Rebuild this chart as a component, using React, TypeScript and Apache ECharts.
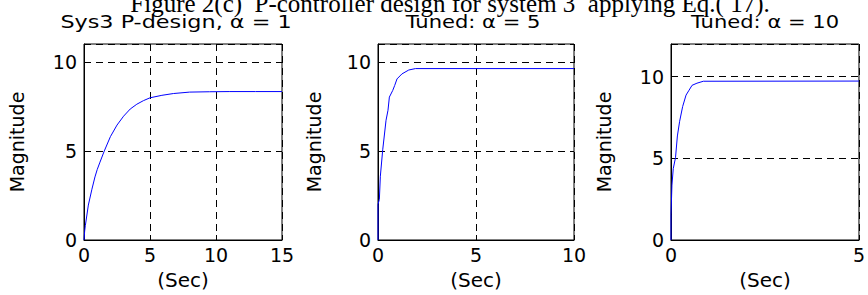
import React, { useEffect, useRef } from 'react';
import * as echarts from 'echarts';

const mainTitle = 'Figure 2(c)  P-controller design for system 3  applying Eq.( 17).';
const panelTitles = ['Sys3 P-design, \u03b1 = 1', 'Tuned: \u03b1 = 5', 'Tuned: \u03b1 = 10'];
const yAxisName = 'Magnitude';
const xAxisName = '(Sec)';
const xMaxes = [15, 10, 5];
const yMaxes = [11, 11, 12];
const tickStep = 5;

// Panel 1: Sys3 P-design, alpha = 1
const time1 = [0, 0.05, 0.1, 0.33, 0.6, 0.83, 1.0, 1.21, 1.54, 2.0, 2.5, 3.0, 3.5, 4.0, 4.5, 5.0, 5.9, 6.77, 8.0, 9.5, 11, 13, 15];
const mag1 = [0, 0.5, 0.8, 1.96, 2.85, 3.54, 3.95, 4.37, 5.0, 5.8, 6.45, 6.95, 7.35, 7.62, 7.82, 7.98, 8.12, 8.22, 8.3, 8.32, 8.33, 8.33, 8.33];

// Panel 2: Tuned, alpha = 5
const time2 = [0, 0, 0.07, 0.12, 0.24, 0.41, 0.51, 0.58, 0.75, 0.85, 0.97, 1.22, 1.57, 1.91, 10];
const mag2 = [0, 2.0, 2.28, 3.58, 5.06, 6.72, 7.28, 8.02, 8.39, 8.67, 9.04, 9.32, 9.54, 9.62, 9.62];

// Panel 3: Tuned, alpha = 10
const time3 = [0, 0, 0.025, 0.06, 0.12, 0.17, 0.23, 0.31, 0.4, 0.48, 0.56, 0.69, 0.86, 5];
const mag3 = [0, 1.57, 3.36, 4.37, 5.04, 6.37, 7.27, 8.17, 8.87, 9.17, 9.47, 9.6, 9.72, 9.73];

const times = [time1, time2, time3];
const mags = [mag1, mag2, mag3];

const gridBoxes = [
  { left: 84, top: 44, width: 198, height: 199 },
  { left: 378, top: 44, width: 196, height: 199 },
  { left: 671, top: 44, width: 197, height: 199 },
];
const titleCenters = [176, 473, 765];
const titleScales = [1.24, 1.17, 1.17];
const yNameGaps = [58, 55, 58];

const SANS = '"DejaVu Sans", "Liberation Sans", Arial, sans-serif';

export default function App() {
  const ref = useRef<HTMLDivElement>(null);
  useEffect(() => {
    if (!ref.current) return;
    const chart = echarts.init(ref.current, undefined, { renderer: 'svg' });
    const labelFmt = (v: number) => (v % tickStep === 0 ? String(v) : '');
    const grid = gridBoxes.map((g) => ({
      ...g,
      show: true,
      borderColor: '#000',
      borderWidth: 1,
      backgroundColor: 'transparent',
      containLabel: false,
    }));
    const splitLine = { show: true, lineStyle: { color: '#000', width: 1, type: [7, 5] } };
    const xAxis = xMaxes.map((mx, i) => ({
      gridIndex: i,
      type: 'value',
      min: 0,
      max: mx,
      interval: tickStep,
      name: xAxisName,
      nameLocation: 'middle',
      nameGap: 30,
      nameTextStyle: { color: '#000', fontFamily: SANS, fontSize: 20 },
      axisLine: { show: true, onZero: false, lineStyle: { color: '#000', width: 1 } },
      axisTick: { show: true, inside: true, length: 5, lineStyle: { color: '#000' } },
      axisLabel: { color: '#000', fontFamily: SANS, fontSize: 19, margin: 5, formatter: labelFmt },
      splitLine,
    }));
    const yAxis = yMaxes.map((mx, i) => ({
      gridIndex: i,
      type: 'value',
      min: 0,
      max: mx,
      interval: tickStep,
      name: yAxisName,
      nameLocation: 'middle',
      nameRotate: 90,
      nameGap: yNameGaps[i],
      nameTextStyle: { color: '#000', fontFamily: SANS, fontSize: 19 },
      axisLine: { show: true, onZero: false, lineStyle: { color: '#000', width: 1 } },
      axisTick: { show: true, inside: true, length: 5, lineStyle: { color: '#000' } },
      axisLabel: { color: '#000', fontFamily: SANS, fontSize: 19, margin: 7, formatter: labelFmt },
      splitLine,
    }));
    const series = times.map((tt, i) => ({
      type: 'line',
      xAxisIndex: i,
      yAxisIndex: i,
      data: tt.map((t, k) => [t, mags[i][k]]),
      showSymbol: false,
      symbol: 'none',
      smooth: false,
      lineStyle: { color: '#0000ff', width: 1 },
      z: 3,
    }));
    const graphic: any[] = [
      {
        type: 'text',
        x: 450,
        y: 3,
        style: {
          text: mainTitle,
          fontFamily: '"Liberation Serif", "Times New Roman", serif',
          fontSize: 25,
          fill: '#000',
          align: 'center',
          verticalAlign: 'middle',
        },
      },
      ...panelTitles.map((t, i) => ({
        type: 'text',
        x: titleCenters[i],
        y: 22,
        scaleX: titleScales[i],
        style: {
          text: t,
          fontFamily: SANS,
          fontSize: 18,
          fill: '#000',
          align: 'center',
          verticalAlign: 'middle',
        },
      })),
    ];
    chart.setOption({
      animation: false,
      backgroundColor: '#fff',
      grid,
      xAxis,
      yAxis,
      series,
      graphic,
    } as any);
    return () => chart.dispose();
  }, []);
  return (
    <div
      ref={ref}
      style={{ position: 'fixed', left: 0, top: 0, width: 868, height: 295, background: '#fff' }}
    />
  );
}
